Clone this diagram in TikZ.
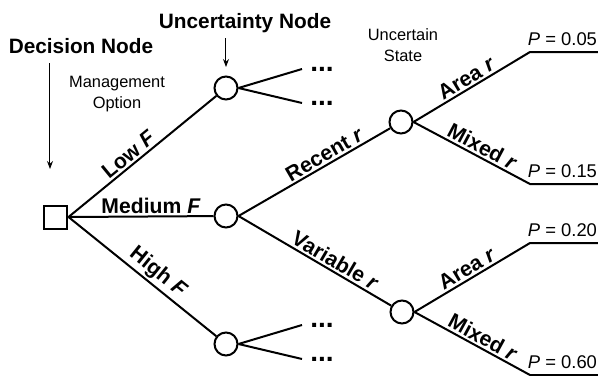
\documentclass[tikz,border=0pt]{standalone}
\usepackage{fontspec}
\setmainfont{Liberation Sans}
\usetikzlibrary{arrows.meta}
\begin{document}
\begin{tikzpicture}[x=0.5pt,y=-0.5pt,
    branch/.style={line width=1pt},
    pointer/.style={line width=0.5pt,-{Stealth[length=4pt,width=3pt]}},
    choice/.style={draw,rectangle,line width=1pt,minimum size=11.5pt,inner sep=0pt},
    chance/.style={draw,circle,line width=1pt,minimum size=11.5pt,inner sep=0pt},
    head/.style={font=\fontsize{10.4}{12}\selectfont\bfseries,anchor=base},
    note/.style={font=\fontsize{8.2}{10.5}\selectfont,align=center},
    lbl/.style={font=\fontsize{10.6}{12}\selectfont\bfseries,sloped,above,inner sep=1pt},
    prob/.style={font=\fontsize{9.2}{11}\selectfont,anchor=south east,inner xsep=0pt,inner ysep=2.5pt},
    more/.style={font=\fontsize{14}{16}\selectfont\bfseries,anchor=west,inner xsep=4pt,inner ysep=0pt}]
\useasboundingbox (0,0) rectangle (602,376);
%% titles
\node[head] (dechead) at (81,53) {Decision Node};
\node[head] (unchead) at (245,28) {Uncertainty Node};
\node[note] (option) at (117,94) {Management\\Option};
\node[note] (state) at (403,45) {Uncertain\\State};
\coordinate (decfrom) at (50,63);
\coordinate (decto) at (50,169);
\coordinate (uncfrom) at (226,38);
\coordinate (uncto) at (226,67);
\draw[pointer] (decfrom) -- (decto);
\draw[pointer] (uncfrom) -- (uncto);
%% nodes
\node[choice] (dec) at (56,217) {};
\node[chance] (low) at (226,88) {};
\node[chance] (med) at (226,216) {};
\node[chance] (high) at (226,344) {};
\node[chance] (recent) at (401,122) {};
\node[chance] (variable) at (402,312) {};
%% management options
\draw[branch] (dec.east) -- node[lbl,pos=0.45] {Low \textit{F}} (low);
\draw[branch] (dec.east) -- node[lbl,pos=0.57] {Medium \textit{F}} (med);
\draw[branch] (dec.east) -- node[lbl,pos=0.55] {High \textit{F}} (high);
%% unexpanded branches
\node[more] (lowa) at (302,69) {...};
\node[more] (lowb) at (302,103) {...};
\node[more] (higha) at (302,325) {...};
\node[more] (highb) at (302,359) {...};
\draw[branch] (low.east) -- (lowa.west);
\draw[branch] (low.east) -- (lowb.west);
\draw[branch] (high.east) -- (higha.west);
\draw[branch] (high.east) -- (highb.west);
%% uncertain states
\draw[branch] (med.east) -- node[lbl,pos=0.6] {Recent \textit{r}} (recent);
\draw[branch] (med.east) -- node[lbl,pos=0.6] {Variable \textit{r}} (variable);
\coordinate (ra) at (530,52);   \coordinate (raend) at (598,52);
\coordinate (rm) at (530,184);  \coordinate (rmend) at (598,184);
\coordinate (va) at (530,243);  \coordinate (vaend) at (598,243);
\coordinate (vm) at (530,375);  \coordinate (vmend) at (598,375);
\draw[branch] (recent.east) -- node[lbl,pos=0.5] {Area \textit{r}} (ra) -- (raend) node[prob] {\textit{P} = 0.05};
\draw[branch] (recent.east) -- node[lbl,pos=0.55] {Mixed \textit{r}} (rm) -- (rmend) node[prob] {\textit{P} = 0.15};
\draw[branch] (variable.east) -- node[lbl,pos=0.5] {Area \textit{r}} (va) -- (vaend) node[prob] {\textit{P} = 0.20};
\draw[branch] (variable.east) -- node[lbl,pos=0.55] {Mixed \textit{r}} (vm) -- (vmend) node[prob] {\textit{P} = 0.60};
\end{tikzpicture}
\end{document}
